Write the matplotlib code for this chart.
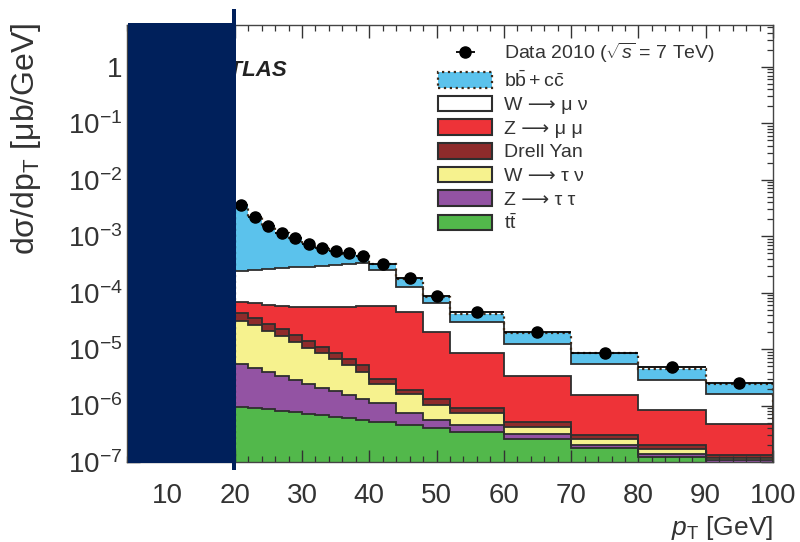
import numpy as np
import matplotlib
matplotlib.use('Agg')
import matplotlib.pyplot as plt
from matplotlib.ticker import MultipleLocator, LogLocator, FuncFormatter, NullFormatter
from matplotlib.patches import Rectangle, Patch

plt.rcParams['font.family'] = ['Liberation Sans', 'DejaVu Sans']
plt.rcParams['mathtext.fontset'] = 'custom'
plt.rcParams['mathtext.rm'] = 'Liberation Sans'
plt.rcParams['mathtext.it'] = 'Liberation Sans:italic'
plt.rcParams['mathtext.bf'] = 'Liberation Sans:bold'

# ---------------- data ----------------
bin_edges = [20, 22, 24, 26, 28, 30, 32, 34, 36, 38, 40, 44, 48, 52, 60, 70, 80, 90, 100]
data_2010 = [3.50e-3, 2.18e-3, 1.49e-3, 1.135e-3, 9.25e-4, 7.33e-4, 6.15e-4, 5.51e-4, 5.01e-4,
             4.50e-4, 3.24e-4, 1.81e-4, 8.77e-5, 4.62e-5, 2.04e-5, 8.45e-6, 4.90e-6, 2.48e-6]
ttbar = [9.55e-7, 9.06e-7, 8.53e-7, 8.02e-7, 7.55e-7, 7.10e-7, 6.67e-7, 6.28e-7, 5.90e-7,
         5.56e-7, 5.18e-7, 4.53e-7, 3.93e-7, 3.40e-7, 2.56e-7, 1.77e-7, 1.24e-7, 8.8e-8]
z_tautau = [4.51e-6, 3.73e-6, 3.10e-6, 2.55e-6, 2.09e-6, 1.71e-6, 1.38e-6, 1.15e-6, 9.2e-7,
            7.3e-7, 5.8e-7, 2.76e-7, 1.63e-7, 1.04e-7, 5.2e-8, 2.3e-8, 1.5e-8, 2.0e-8]
w_taunu = [2.61e-5, 2.23e-5, 1.705e-5, 1.375e-5, 1.056e-5, 8.08e-6, 6.52e-6, 4.92e-6, 3.74e-6,
           2.70e-6, 1.27e-6, 8.8e-7, 4.74e-7, 2.8e-7, 1.15e-7, 5.2e-8, 2.9e-8, 1.0e-8]
drell_yan = [1.23e-5, 8.8e-6, 7.0e-6, 5.2e-6, 4.1e-6, 3.2e-6, 2.33e-6, 1.87e-6, 1.45e-6,
             1.26e-6, 6.0e-7, 2.8e-7, 2.5e-7, 1.71e-7, 8.9e-8, 4.3e-8, 3.0e-8, 1.5e-8]
z_mumu = [2.56e-5, 3.02e-5, 3.28e-5, 3.6e-5, 3.85e-5, 4.11e-5, 4.39e-5, 4.62e-5, 4.93e-5,
          5.19e-5, 5.40e-5, 4.43e-5, 1.91e-5, 7.56e-6, 2.80e-6, 1.245e-6, 6.21e-7, 3.39e-7]
w_munu = [1.745e-4, 1.88e-4, 2.03e-4, 2.167e-4, 2.25e-4, 2.32e-4, 2.44e-4, 2.50e-4, 2.62e-4,
          2.74e-4, 1.97e-4, 8.18e-5, 4.48e-5, 2.125e-5, 9.09e-6, 3.93e-6, 2.02e-6, 1.138e-6]
bb_cc = [3.21e-3, 1.90e-3, 1.206e-3, 8.45e-4, 6.29e-4, 4.33e-4, 3.06e-4, 2.35e-4, 1.72e-4,
         1.09e-4, 7.0e-5, 4.5e-5, 2.01e-5, 1.24e-5, 7.2e-6, 3.10e-6, 1.57e-6, 8.1e-7]

legend_labels = ['Data 2010 ($\\sqrt{s}$ = 7 TeV)', r'$\mathregular{b\bar{b}+c\bar{c}}$',
                 'W \u27f6 \u03bc \u03bd', 'Z \u27f6 \u03bc \u03bc', 'Drell Yan',
                 'W \u27f6 \u03c4 \u03bd', 'Z \u27f6 \u03c4 \u03c4', r'$\mathregular{t\bar{t}}$']

# ---------------- style ----------------
c_bbcc = '#5BC2EC'
c_wmunu = '#FFFFFF'
c_zmumu = '#EE3338'
c_dy = '#8E2B2B'
c_wtaunu = '#F6F28E'
c_ztautau = '#9353A3'
c_ttbar = '#52B84B'
edge_c = '#2e2e2e'
dot_c = '#3b2a1a'

fig = plt.figure(figsize=(8, 5.42), dpi=100)
ax = fig.add_axes([127 / 800, 1 - 462 / 542, (773 - 127) / 800, (462 - 25) / 542])
ax.set_yscale('log')
ax.set_xlim(4, 100)
ax.set_ylim(1e-7, 5.5)

edges = np.array(bin_edges, dtype=float)
components = [ttbar, z_tautau, w_taunu, drell_yan, z_mumu, w_munu, bb_cc]
colors = [c_ttbar, c_ztautau, c_wtaunu, c_dy, c_zmumu, c_wmunu, c_bbcc]

base = np.full(len(ttbar), 1e-9)
tops = []
for vals, col in zip(components, colors):
    top = base + np.array(vals)
    ax.stairs(top, edges, baseline=base, fill=True, color=col, lw=0, zorder=1)
    tops.append(top)
    base = top
for top in tops[:-1]:
    ax.stairs(top, edges, color=edge_c, lw=1.3, zorder=2)
ax.stairs(tops[-1], edges, color=dot_c, lw=1.6, ls=(0, (1, 1.6)), zorder=2)

centers = 0.5 * (edges[:-1] + edges[1:])
half = 0.5 * np.diff(edges)
data_h = ax.errorbar(centers, data_2010, xerr=half, fmt='o', color='black', ms=8,
                     lw=1.3, capsize=0, zorder=4)

# ---------------- axes styling ----------------
ax.xaxis.set_major_locator(MultipleLocator(10))
ax.xaxis.set_minor_locator(MultipleLocator(2))
ax.yaxis.set_major_locator(LogLocator(base=10, numticks=20))
ax.yaxis.set_minor_locator(LogLocator(base=10, subs=np.arange(2, 10), numticks=20))
ax.yaxis.set_minor_formatter(NullFormatter())


def yfmt(v, pos):
    e = int(round(np.log10(v)))
    if e == 0:
        return '1'
    return r'$\mathregular{10^{%d}}$' % e


ax.yaxis.set_major_formatter(FuncFormatter(yfmt))
ax.tick_params(which='both', direction='in', top=True, right=True, colors='#333333',
               labelcolor='#333333', labelsize=20)
ax.tick_params(which='major', length=9, width=1.0)
ax.tick_params(which='minor', length=4.5, width=0.9)
ax.tick_params(axis='x', pad=15)
ax.tick_params(axis='y', pad=3)
for s in ax.spines.values():
    s.set_color('#444444')
    s.set_linewidth(1.0)

ax.set_ylabel('d\u03c3/dp$_\\mathregular{T}$ [\u03bcb/GeV]', fontsize=23, color='#333333', loc='top')
ax.yaxis.set_label_coords(-0.13, 1.005)
ax.set_xlabel(r'$p_\mathregular{T}$ [GeV]', fontsize=19, color='#333333', loc='right')
ax.xaxis.set_label_coords(1.0, -0.12)

# ---------------- legend ----------------
handles = [data_h,
           Patch(facecolor=c_bbcc, edgecolor=dot_c, linestyle=':', lw=1.6),
           Patch(facecolor=c_wmunu, edgecolor=edge_c, lw=1.5),
           Patch(facecolor=c_zmumu, edgecolor=edge_c, lw=1.5),
           Patch(facecolor=c_dy, edgecolor=edge_c, lw=1.5),
           Patch(facecolor=c_wtaunu, edgecolor=edge_c, lw=1.5),
           Patch(facecolor=c_ztautau, edgecolor=edge_c, lw=1.5),
           Patch(facecolor=c_ttbar, edgecolor=edge_c, lw=1.5)]
leg = ax.legend(handles, legend_labels, loc='upper left',
                bbox_to_anchor=(438 / 800, 1 - 41 / 542), bbox_transform=fig.transFigure,
                frameon=False, fontsize=14, handlelength=2.8, handleheight=0.85,
                handletextpad=0.6, labelspacing=0.26, borderpad=0, borderaxespad=0)
for t in leg.get_texts():
    t.set_color('#333333')

# ATLAS label
fig.text(214 / 800, 1 - 70 / 542, 'ATLAS', fontsize=16, fontweight='bold', style='italic',
         color='#222222', va='center', ha='left', zorder=3)

# occluding navy block
navy = '#00205B'
fig.add_artist(Rectangle((128 / 800, 1 - 463 / 542), (236 - 128) / 800, (463 - 23) / 542,
                         transform=fig.transFigure, facecolor=navy, edgecolor='none', zorder=10))
fig.add_artist(Rectangle((232 / 800, 1 - 470 / 542), 4 / 800, (470 - 9) / 542,
                         transform=fig.transFigure, facecolor=navy, edgecolor='none', zorder=10))

fig.savefig('out.png', dpi=100)
